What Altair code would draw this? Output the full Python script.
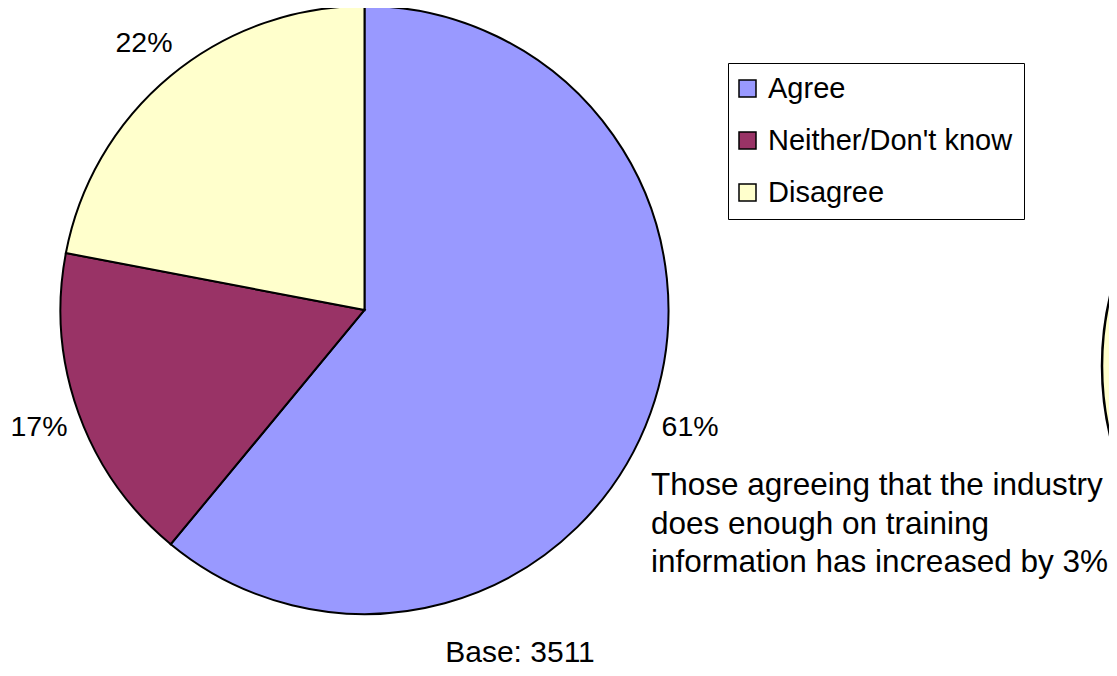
import altair as alt
import pandas as pd

categories = ["Agree", "Neither/Don't know", "Disagree"]
values = [61, 17, 22]
labels = ["61%", "17%", "22%"]
colors = ["#9999FF", "#993366", "#FFFFCC"]
order_idx = [0, 1, 2]

note_lines = ["Those agreeing that the industry", "does enough on training",
              "information has increased by 3%"]
base_text = "Base: 3511"

FONT = "Liberation Sans"

df = pd.DataFrame({"cat": categories, "val": values, "lab": labels, "idx": order_idx})

W, H = 1101, 660
CX, CY, R = 356.5, 302, 304

pie = alt.Chart(df).mark_arc(radius=R, stroke="black", strokeWidth=2).encode(
    x=alt.value(CX), y=alt.value(CY),
    theta=alt.Theta("val:Q", stack=True),
    order=alt.Order("idx:Q"),
    color=alt.Color("cat:N", scale=alt.Scale(domain=categories, range=colors),
                    sort=categories,
                    legend=alt.Legend(title=None)),
)

lab = alt.Chart(df).mark_text(radius=346, font=FONT, fontSize=28.5, color="black").encode(
    x=alt.value(CX), y=alt.value(CY),
    theta=alt.Theta("val:Q", stack=True),
    order=alt.Order("idx:Q"),
    text="lab:N",
)

# partial neighbouring pie at right edge (full circle, only its left rim shows)
side = alt.Chart(pd.DataFrame({"v": [1]})).mark_arc(
    radius=305, theta=0, theta2=6.2832,
    stroke="black", strokeWidth=2.5, fill="#FFFFCC").encode(
    x=alt.value(1399), y=alt.value(358))

note = alt.Chart(pd.DataFrame({"t": [note_lines]})).mark_text(
    font=FONT, fontSize=31.5, align="left", baseline="alphabetic",
    lineHeight=38.5, color="black").encode(
    x=alt.value(643), y=alt.value(487), text="t")

base = alt.Chart(pd.DataFrame({"t": [base_text]})).mark_text(
    font=FONT, fontSize=30, align="center", baseline="alphabetic", color="black").encode(
    x=alt.value(512), y=alt.value(654), text="t:N")

chart = alt.layer(side, pie, lab, note, base).properties(
    width=W, height=H, autosize="none", padding=0
).configure_view(stroke=None).configure_legend(
    orient="none", legendX=720, legendY=55,
    strokeColor="black", strokeWidth=1, fillColor="white",
    padding=11, symbolType="square", symbolSize=289, symbolOffset=-6,
    symbolStrokeColor="black", symbolStrokeWidth=1.5,
    labelFont=FONT, labelFontSize=29, labelColor="black",
    rowPadding=22, labelOffset=6, labelLimit=400,
)

chart.save("out.html", embed_options={"renderer": "svg", "actions": False})
